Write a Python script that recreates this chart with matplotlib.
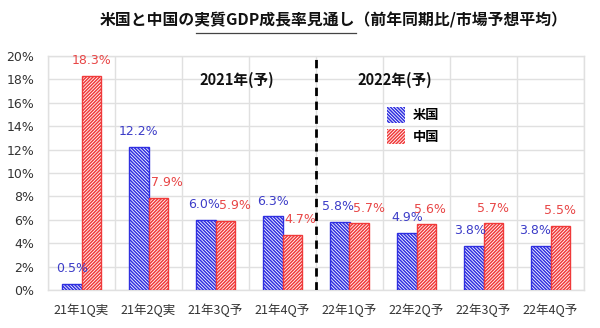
import matplotlib
matplotlib.use("Agg")
import matplotlib.pyplot as plt
import numpy as np
from matplotlib.patches import Patch

plt.rcParams['font.family'] = ['Noto Sans CJK JP', 'DejaVu Sans']
plt.rcParams['hatch.linewidth'] = 1.1

categories = ["21年1Q実", "21年2Q実", "21年3Q予", "21年4Q予",
              "22年1Q予", "22年2Q予", "22年3Q予", "22年4Q予"]
us_values = [0.5, 12.2, 6.0, 6.3, 5.8, 4.9, 3.8, 3.8]
cn_values = [18.3, 7.9, 5.9, 4.7, 5.7, 5.6, 5.7, 5.5]
series_names = ["米国", "中国"]
yticks = [0, 2, 4, 6, 8, 10, 12, 14, 16, 18, 20]
period_labels = ["2021年(予)", "2022年(予)"]
title_parts = ["米国と中国の", "実質GDP成長率見通し", "（前年同期比/市場予想平均）"]

# label x-offsets (points) to avoid overlap, as in the reference
cn_label_dx = [0, 6, 7, 6, 7, 3, 0, 0]
us_label_dx = [0, 0, -1, 0, -1, 0, -3, -4]

BLUE = "#2f2fe0"
RED = "#f03a3a"
BLUE_T = "#3c3cc8"
RED_T = "#e84646"
HB = "\\" * 10
HR = "/" * 10

fig = plt.figure(figsize=(6.0, 3.28), dpi=100)
ax = fig.add_axes([48/600, 38/328, 536/600, 234/328])

x = np.arange(len(categories))
w = 0.29
ax.bar(x - w/2, us_values, w, facecolor="white", edgecolor=BLUE,
       hatch=HB, linewidth=1.0, zorder=3)
ax.bar(x + w/2, cn_values, w, facecolor="white", edgecolor=RED,
       hatch=HR, linewidth=1.0, zorder=3)

for i, v in enumerate(us_values):
    ax.annotate(f"{v:.1f}%", (x[i] - w/2, v), xytext=(us_label_dx[i], 11),
                textcoords="offset points", ha="center", va="center",
                color=BLUE_T, fontsize=9, family=['DejaVu Sans'])
for i, v in enumerate(cn_values):
    ax.annotate(f"{v:.1f}%", (x[i] + w/2, v), xytext=(cn_label_dx[i], 11),
                textcoords="offset points", ha="center", va="center",
                color=RED_T, fontsize=9, family=['DejaVu Sans'])

ax.set_xlim(-0.5, len(categories) - 0.5)
ax.set_ylim(0, 20)
ax.set_yticks(yticks)
ax.set_yticklabels([f"{t}%" for t in yticks], fontsize=9, family=['DejaVu Sans'], color="#333333")
ax.set_xticks(x)
ax.set_xticklabels(categories, fontsize=9, color="#333333")
ax.set_xticks(np.arange(len(categories) + 1) - 0.5, minor=True)
ax.tick_params(axis="both", which="both", length=0)
ax.tick_params(axis="x", pad=10)
ax.tick_params(axis="y", pad=10)
ax.grid(axis="y", which="major", color="#e0e0e0", linewidth=1.0, zorder=0)
ax.grid(axis="x", which="minor", color="#e0e0e0", linewidth=1.0, zorder=0)
ax.grid(axis="x", which="major", visible=False)
for s in ax.spines.values():
    s.set_color("#e0e0e0")
    s.set_linewidth(1.0)

ax.axvline(3.5, color="black", linestyle=(0, (3, 2)), linewidth=2, zorder=4)

ax.text(2.32, 17.95, period_labels[0], ha="center", va="center",
        fontsize=10.5, fontweight="bold", color="#111111")
ax.text(4.68, 17.95, period_labels[1], ha="center", va="center",
        fontsize=10.5, fontweight="bold", color="#111111")

handles = [Patch(facecolor="white", edgecolor=BLUE, hatch=HB, linewidth=0),
           Patch(facecolor="white", edgecolor=RED, hatch=HR, linewidth=0)]
ax.legend(handles, series_names, loc="upper left", bbox_to_anchor=(0.632, 0.78),
          frameon=False, borderaxespad=0, borderpad=0, handlelength=1.4,
          handleheight=1.4, handletextpad=0.6, labelspacing=0.45,
          prop={'family': ['Noto Sans CJK JP'], 'weight': 'bold', 'size': 9.5})

# title as one text; underline under the middle part
tkw = dict(fontsize=11.4, fontweight="bold", color="#111111", va="center", ha="left")
ty = 1 - 20/328
tx = 100/600
title = fig.text(tx, ty, "".join(title_parts), **tkw)
fig.canvas.draw()
r = fig.canvas.get_renderer()
tmp1 = fig.text(tx, ty, title_parts[0], **tkw)
tmp2 = fig.text(tx, ty, title_parts[0] + title_parts[1], **tkw)
x_start = tmp1.get_window_extent(r).x1
x_end = tmp2.get_window_extent(r).x1
tmp1.remove()
tmp2.remove()
fig.add_artist(plt.Line2D([x_start/600 + 0.002, x_end/600], [1 - 33/328, 1 - 33/328],
                          color="#444444", linewidth=0.9, transform=fig.transFigure))

fig.savefig("out.png", dpi=100, facecolor="white")
